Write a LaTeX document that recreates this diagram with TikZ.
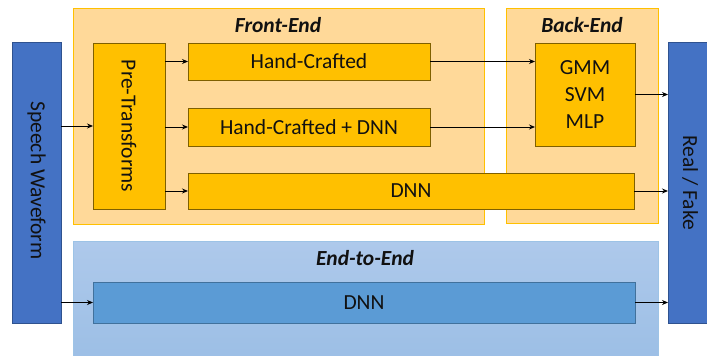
\documentclass[tikz,border=0pt]{standalone}
\usepackage{fontspec}
\setmainfont{Carlito}
\usetikzlibrary{arrows.meta}
\definecolor{panelFill}{HTML}{FFD999}
\definecolor{panelDraw}{HTML}{FFC000}
\definecolor{boxFill}{HTML}{FFC000}
\definecolor{boxDraw}{HTML}{7F6000}
\definecolor{blueFill}{HTML}{4472C4}
\definecolor{blueDraw}{HTML}{2F528F}
\definecolor{eTop}{HTML}{AEC9EB}
\definecolor{eBot}{HTML}{9BBEE5}
\definecolor{eDraw}{HTML}{9DC3E6}
\definecolor{dnnFill}{HTML}{5B9BD5}
\definecolor{dnnDraw}{HTML}{41719C}
\definecolor{txt}{HTML}{111111}
\begin{document}
\begin{tikzpicture}[x=1pt,y=-1pt,
  every node/.style={inner sep=0pt, outer sep=0pt, text=txt},
  boxtxt/.style={font=\fontsize{21.5}{26}\selectfont},
  panel/.style={rectangle, draw=panelDraw, fill=panelFill, line width=0.8pt},
  obox/.style={rectangle, draw=boxDraw, fill=boxFill, line width=0.9pt, boxtxt},
  bbox/.style={rectangle, draw=blueDraw, fill=blueFill, line width=0.9pt, boxtxt},
  epanel/.style={rectangle, draw=eDraw, top color=eTop, bottom color=eBot, line width=0.8pt},
  dbox/.style={rectangle, draw=dnnDraw, fill=dnnFill, line width=0.9pt, boxtxt},
  ttl/.style={font=\fontsize{21.5}{26}\selectfont\bfseries\itshape},
  arr/.style={-{Stealth[length=6pt,width=5pt]}, line width=0.9pt, black}
]
\useasboundingbox (0,0) rectangle (707,356);
% panels
\node[panel, minimum width=411, minimum height=216] (front) at (278.5,116) {};
\node[panel, minimum width=152, minimum height=215] (back) at (582,115.5) {};
\node[epanel, minimum width=585, minimum height=125] (e2e) at (365.5,303.5) {};
\node[ttl] (tf) at (278,25) {Front-End};
\node[ttl] (tb) at (582,25) {Back-End};
\node[ttl] (te) at (365,258) {End-to-End};
% side boxes
\node[bbox, minimum width=49, minimum height=281,
  label={[boxtxt, rotate=-90, xshift=-2pt]center:Speech Waveform}] (speech) at (36.5,182.5) {};
\node[bbox, minimum width=44, minimum height=281,
  label={[boxtxt, rotate=-90]center:Real / Fake}] (real) at (690,182.5) {};
% front-end boxes
\node[obox, minimum width=72, minimum height=166,
  label={[boxtxt, rotate=-90]center:Pre-Transforms}] (pre) at (129,126) {};
\node[obox, minimum width=242, minimum height=37] (hc) at (309,61.5) {Hand-Crafted};
\node[obox, minimum width=242, minimum height=38] (hcd) at (309,127) {Hand-Crafted + DNN};
\node[obox, minimum width=446, minimum height=36] (dnnf) at (411,191) {DNN};
\node[obox, minimum width=100, minimum height=103, align=center] (gmm) at (585,94.5) {GMM\\[1pt]SVM\\[1pt]MLP};
% end-to-end box
\node[dbox, minimum width=542, minimum height=41] (dnne) at (364,302.5) {DNN};
% arrows
\draw[arr] (speech.east |- pre) -- (pre.west);
\draw[arr] (pre.east |- hc) -- (hc.west);
\draw[arr] (pre.east |- hcd) -- (hcd.west);
\draw[arr] (pre.east |- dnnf) -- (dnnf.west);
\draw[arr] (hc.east) -- (gmm.west |- hc);
\draw[arr] (hcd.east) -- (gmm.west |- hcd);
\draw[arr] (gmm.east) -- (real.west |- gmm);
\draw[arr] (dnnf.east) -- (real.west |- dnnf);
\draw[arr] (speech.east |- dnne) -- (dnne.west);
\draw[arr] (dnne.east) -- (real.west |- dnne);
\end{tikzpicture}
\end{document}
